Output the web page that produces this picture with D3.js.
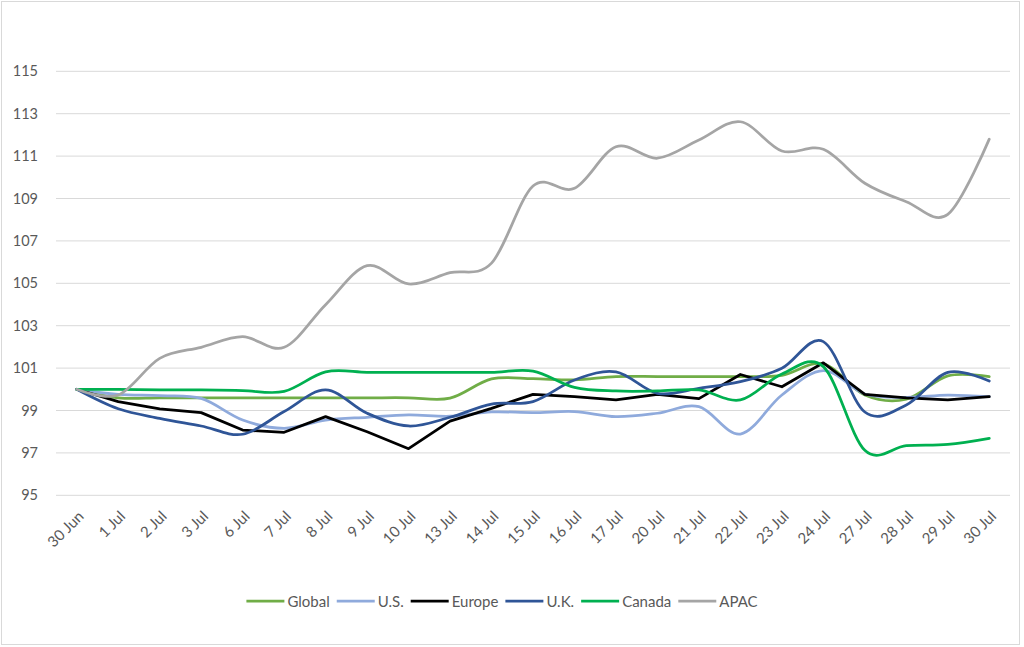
<!DOCTYPE html>
<html>
<head>
<meta charset="utf-8">
<script src="https://cdn.jsdelivr.net/npm/d3@7"></script>
<style>
  body { margin: 0; background: #fff; }
  svg { display: block; font-family: Lato, "Open Sans", sans-serif; }
</style>
</head>
<body>
<div id="chart"></div>
<script>
// categories along the x axis
var dates = ["30 Jun", "1 Jul", "2 Jul", "3 Jul", "6 Jul", "7 Jul", "8 Jul", "9 Jul", "10 Jul",
    "13 Jul", "14 Jul", "15 Jul", "16 Jul", "17 Jul", "20 Jul", "21 Jul", "22 Jul", "23 Jul",
    "24 Jul", "27 Jul", "28 Jul", "29 Jul", "30 Jul"];

var yTicks = [95, 97, 99, 101, 103, 105, 107, 109, 111, 113, 115];

// index values
var global = [100, 99.6, 99.6, 99.6, 99.6, 99.6, 99.6, 99.6, 99.6, 99.58, 100.49, 100.5,
    100.45, 100.6, 100.6, 100.6, 100.6, 100.66, 101.2, 99.73, 99.53, 100.63, 100.6];
var us = [100, 99.76, 99.7, 99.57, 98.55, 98.16, 98.55, 98.68, 98.79, 98.73, 98.93, 98.9,
    98.95, 98.71, 98.87, 99.18, 97.89, 99.73, 100.88, 99.78, 99.62, 99.73, 99.65];
var europe = [100, 99.42, 99.08, 98.9, 98.08, 97.97, 98.71, 98.0, 97.2, 98.5, 99.1, 99.76,
    99.65, 99.5, 99.76, 99.56, 100.7, 100.12, 101.25, 99.76, 99.6, 99.5, 99.65];
var uk = [100, 99.08, 98.63, 98.27, 97.88, 98.95, 99.97, 98.87, 98.27, 98.68, 99.3, 99.42,
    100.44, 100.82, 99.81, 100.05, 100.36, 100.99, 102.25, 98.93, 99.26, 100.8, 100.39];
var canada = [100, 100, 99.97, 99.97, 99.94, 99.9, 100.82, 100.8, 100.8, 100.8, 100.8, 100.86,
    100.09, 99.92, 99.92, 99.97, 99.5, 100.72, 101.07, 97.12, 97.34, 97.4, 97.69];
var apac = [100, 99.73, 101.46, 101.98, 102.48, 101.98, 103.99, 105.83, 104.97, 105.5, 105.95,
    109.59, 109.48, 111.44, 110.9, 111.76, 112.62, 111.24, 111.32, 109.72, 108.85, 108.25, 111.8];

var seriesNames = ["Global", "U.S.", "Europe", "U.K.", "Canada", "APAC"];
var seriesValues = [global, us, europe, uk, canada, apac];
var seriesColors = ["#70AD47", "#8FAADC", "#000000", "#2F5597", "#00B050", "#A5A5A5"];
var seriesSmooth = [true, true, false, true, true, true];

var width = 1024, height = 647;
var plot = { left: 56, right: 1010, top: 29, bottom: 495.3 };

var svg = d3.select("#chart").append("svg")
    .attr("width", width)
    .attr("height", height);

// chart border
svg.append("rect")
    .attr("x", 1.5).attr("y", 1.5)
    .attr("width", 1018).attr("height", 643)
    .attr("fill", "#fff")
    .attr("stroke", "#D9D9D9")
    .attr("stroke-width", 1);

var x = d3.scaleBand()
    .domain(dates)
    .range([plot.left, plot.right]);

var y = d3.scaleLinear()
    .domain([95, 117])
    .range([plot.bottom, plot.bottom - 22 * 21.2]);

// gridlines
svg.append("g")
    .selectAll("line")
    .data(yTicks)
    .join("line")
    .attr("x1", plot.left)
    .attr("x2", plot.right)
    .attr("y1", d => y(d))
    .attr("y2", d => y(d))
    .attr("stroke", "#D9D9D9")
    .attr("stroke-width", 1);

// y axis labels
var yAxis = svg.append("g")
    .attr("transform", "translate(" + (plot.left - 18) + ",0)")
    .call(d3.axisLeft(y).tickValues(yTicks).tickSize(0).tickPadding(0));
yAxis.select(".domain").remove();
yAxis.selectAll("text")
    .attr("fill", "#595959")
    .attr("font-size", 14.5)
    .attr("font-family", "Lato, 'Open Sans', sans-serif");

// x axis labels, rotated
var xAxis = svg.append("g")
    .attr("transform", "translate(0," + plot.bottom + ")")
    .call(d3.axisBottom(x).tickSize(0).tickPadding(0));
xAxis.select(".domain").remove();
xAxis.selectAll("text")
    .attr("fill", "#595959")
    .attr("font-size", 15)
    .attr("font-family", "Lato, 'Open Sans', sans-serif")
    .attr("text-anchor", "end")
    .attr("dy", null)
    .attr("y", 0)
    .attr("transform", "translate(8,22) rotate(-45)");

// series lines
var cx = d => x(d) + x.bandwidth() / 2;

seriesValues.forEach(function (vals, i) {
    var line = d3.line()
        .x((v, j) => cx(dates[j]))
        .y(v => y(v))
        .curve(seriesSmooth[i] ? d3.curveCatmullRom.alpha(0) : d3.curveLinear);

    svg.append("path")
        .datum(vals)
        .attr("d", line)
        .attr("fill", "none")
        .attr("stroke", seriesColors[i])
        .attr("stroke-width", 2.75)
        .attr("stroke-linejoin", "round")
        .attr("stroke-linecap", "round");
});

// legend, laid out from the measured text widths and centred
var legend = svg.append("g");
var items = [];
seriesNames.forEach(function (name, i) {
    var g = legend.append("g");
    g.append("line")
        .attr("x1", 0).attr("x2", 38)
        .attr("y1", 0).attr("y2", 0)
        .attr("stroke", seriesColors[i])
        .attr("stroke-width", 2.75);
    var t = g.append("text")
        .attr("x", 41)
        .attr("y", 5.5)
        .attr("fill", "#595959")
        .attr("font-size", 15)
        .text(name);
    items.push({ g: g, w: 41 + t.node().getComputedTextLength() });
});
var gap = 7;
var total = d3.sum(items, d => d.w) + gap * (items.length - 1);
var pos = 502 - total / 2;
items.forEach(function (d) {
    d.g.attr("transform", "translate(" + pos + ",601)");
    pos += d.w + gap;
});
</script>
</body>
</html>
